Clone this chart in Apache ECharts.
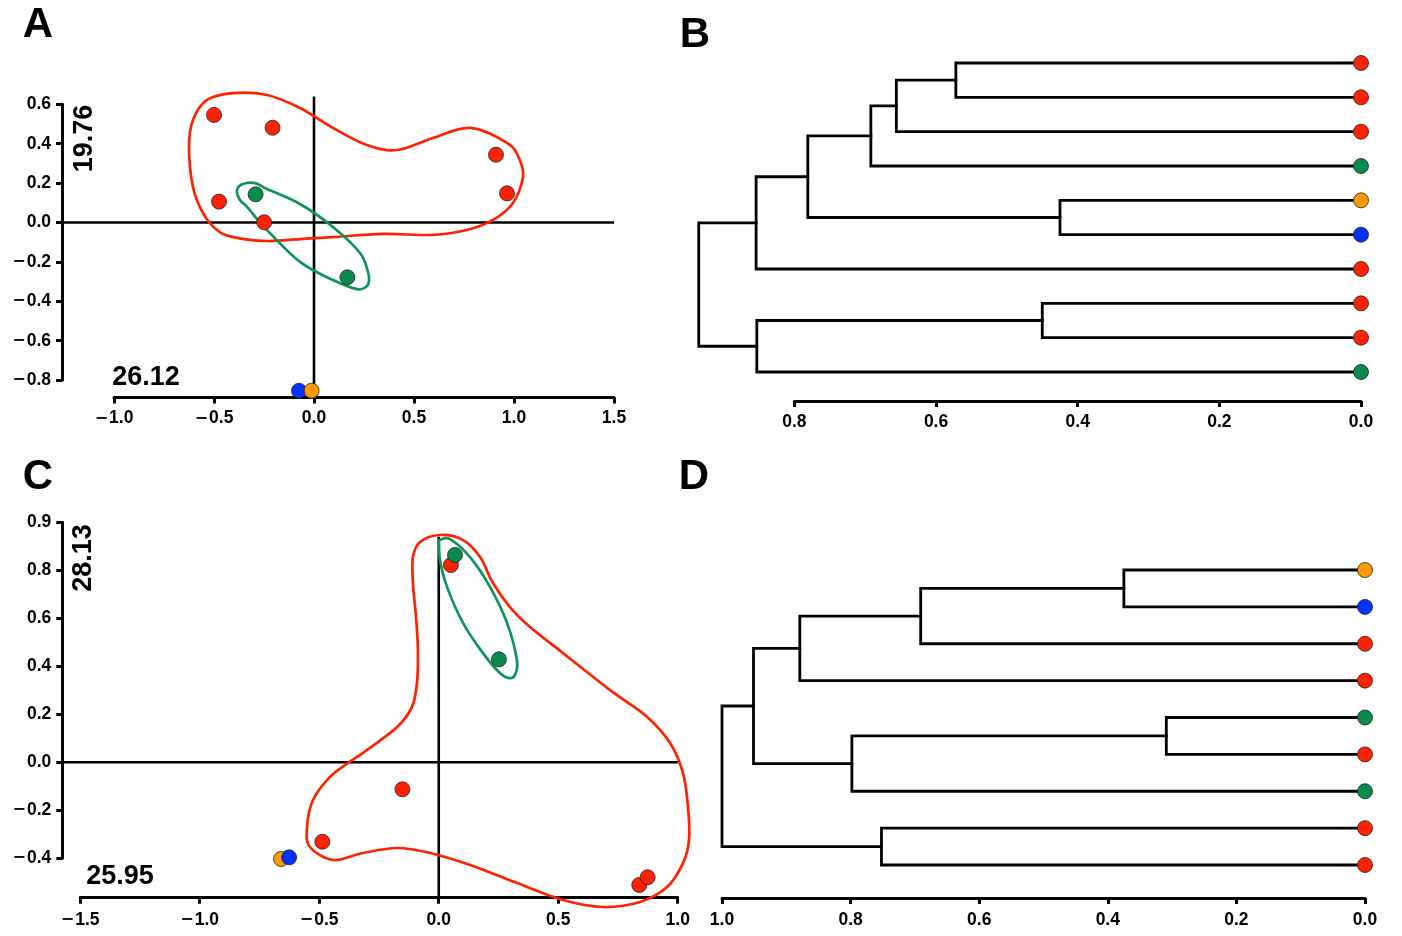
<!DOCTYPE html>
<html><head><meta charset="utf-8">
<script src="https://cdn.jsdelivr.net/npm/echarts@6/dist/echarts.min.js"></script>
<style>html,body{margin:0;padding:0;background:#fff}#c{width:1402px;height:936px}</style>
</head><body><div id="c"></div>
<script>
const FONT = '"Liberation Sans", Arial, Helvetica, sans-serif';
const COLORS = {red:'#FF2200', green:'#078C4E', blue:'#0033FF', orange:'#FF9900'};
const HULL_COLORS = {red:'#FF2200', green:'#0E9459'};

// ---------- Panel A (PCA scores) ----------
const pcaA_x     = [-0.50, -0.207, -0.475, -0.292, -0.249, 0.167, 0.91, 0.965, -0.075, -0.012];
const pcaA_y     = [0.546, 0.481, 0.106, 0.143, 0.001, -0.278, 0.344, 0.148, -0.854, -0.854];
const pcaA_group = ['red','red','red','green','red','green','red','red','blue','orange'];
const hullA_red = [[0.345,-0.058],[0.095,-0.074],[-0.07,-0.084],[-0.235,-0.094],
  [-0.405,-0.074],[-0.485,-0.038],[-0.555,0.048],[-0.605,0.18],[-0.625,0.383],[-0.605,0.52],[-0.535,0.622],
  [-0.405,0.657],[-0.235,0.647],[-0.07,0.581],[0.095,0.48],[0.265,0.393],[0.415,0.368],
  [0.595,0.429],[0.78,0.48],[0.965,0.404],[1.025,0.327],[1.045,0.231],[0.995,0.099],[0.895,0.013],
  [0.765,-0.038],[0.595,-0.063]];
const hullA_green = [[-0.07,0.094],[0.095,-0.023],
  [0.23,-0.155],[0.27,-0.251],[0.275,-0.297],[0.26,-0.327],[0.215,-0.338],[0.095,-0.292],[-0.07,-0.2],
  [-0.235,-0.038],[-0.335,0.079],[-0.37,0.114],[-0.385,0.165],[-0.355,0.195],[-0.295,0.2],[-0.235,0.17]];
const crossA_h = [[-1.26,0],[1.5,0]];
const crossA_v = [[0,-0.89],[0,0.64]];
const xTickValsA = [-1.0,-0.5,0,0.5,1.0,1.5];
const xTicksA    = ['−1.0','−0.5','0.0','0.5','1.0','1.5'];
const yTickValsA = [-0.8,-0.6,-0.4,-0.2,0,0.2,0.4,0.6];
const yTicksA    = ['−0.8','−0.6','−0.4','−0.2','0.0','0.2','0.4','0.6'];
const pcLabelsA  = ['26.12','19.76'];

// ---------- Panel C (PCA scores) ----------
const pcaC_x     = [-0.152, -0.487, -0.66, -0.626, 0.051, 0.068, 0.252, 0.839, 0.874];
const pcaC_y     = [-0.1125, -0.331, -0.403, -0.396, 0.822, 0.864, 0.429, -0.511, -0.479];
const pcaC_group = ['red','red','orange','blue','red','green','green','red','red'];
const hullC_red = [[0.52,0.455],[0.717,0.301],[0.872,0.189],[0.968,0.08],[1.022,-0.045],[1.043,-0.186],[1.047,-0.324],
  [1.022,-0.42],[0.955,-0.52],[0.842,-0.582],[0.687,-0.603],[0.52,-0.574],[0.328,-0.503],[0.131,-0.428],
  [-0.036,-0.378],[-0.174,-0.357],[-0.317,-0.378],[-0.442,-0.407],[-0.539,-0.353],[-0.551,-0.27],
  [-0.526,-0.157],[-0.455,-0.061],[-0.38,-0.003],[-0.317,0.039],[-0.174,0.147],[-0.112,0.231],
  [-0.091,0.331],[-0.087,0.468],[-0.095,0.606],[-0.108,0.747],[-0.108,0.855],[-0.078,0.918],
  [0.005,0.947],[0.102,0.926],[0.173,0.855],[0.227,0.747],[0.298,0.647],[0.382,0.564]];
const hullC_green = [[0.215,0.73],[0.286,0.58],[0.327,0.426],
  [0.319,0.364],[0.294,0.351],[0.256,0.372],[0.185,0.455],[0.102,0.58],[0.035,0.73],[0.005,0.843],[0.001,0.914],
  [0.005,0.926],[0.047,0.93],[0.131,0.855]];
const crossC_h = [[-1.575,0],[1.0,0]];
const crossC_v = [[0,-0.564],[0,0.94]];
const xTickValsC = [-1.5,-1.0,-0.5,0,0.5,1.0];
const xTicksC    = ['−1.5','−1.0','−0.5','0.0','0.5','1.0'];
const yTickValsC = [-0.4,-0.2,0,0.2,0.4,0.6,0.8,1.0];
const yTicksC    = ['−0.4','−0.2','0.0','0.2','0.4','0.6','0.8','0.9'];
const pcLabelsC  = ['25.95','28.13'];

// ---------- Panel B (dendrogram) ----------
const leavesB = ['red','red','red','green','orange','blue','red','red','red','green'];
// [childA, childB, height]; leaves 0..9, merged nodes numbered from 10
const mergesB = [[0,1,0.572],[10,2,0.656],[11,3,0.692],[4,5,0.425],[12,13,0.781],[14,6,0.854],
  [7,8,0.450],[16,9,0.853],[15,17,0.935]];
const xTickValsB = [0,0.2,0.4,0.6,0.8];
const xTicksB    = ['0.0','0.2','0.4','0.6','0.8'];

// ---------- Panel D (dendrogram) ----------
const leavesD = ['orange','blue','red','red','green','red','green','red','red'];
const mergesD = [[0,1,0.375],[9,2,0.691],[10,3,0.879],[4,5,0.309],[12,6,0.798],[11,13,0.951],
  [7,8,0.752],[14,15,1.0]];
const xTickValsD = [0,0.2,0.4,0.6,0.8,1.0];
const xTicksD    = ['0.0','0.2','0.4','0.6','0.8','1.0'];

const panelLetters = ['A','B','C','D'];

// ---------- helpers ----------
function lbl(vals, labels){
  return v => {
    const i = vals.findIndex(t => Math.abs(t - v) < 1e-6);
    if (i < 0) return '';
    const s = labels[i];
    return s.charAt(0) === '−' ? '{m|−}' + s.slice(1) : s;
  };
}
const LINE = {color:'#000', width:3};
function labelStyle(o){
  return Object.assign({show:true, color:'#000', fontSize:17.5, fontWeight:'bold', fontFamily:FONT, margin:12,
    showMinLabel:true, showMaxLabel:true,
    rich:{m:{fontFamily:'"DejaVu Sans", sans-serif', fontWeight:'bold', fontSize:16, color:'#000', padding:[0,1,0,0]}}}, o);
}
function shownAxis(o){
  return Object.assign({
    type:'value', show:true, splitLine:{show:false},
    axisLine:{show:true, onZero:false, lineStyle:LINE},
    axisTick:{show:true, length:6, lineStyle:LINE}
  }, o);
}
function hiddenAxis(o){ return Object.assign({type:'value', show:false, splitLine:{show:false}}, o); }

function buildDendro(merges, nLeaves){
  const pos = [];
  for (let i = 0; i < nLeaves; i++) pos[i] = [0, i];
  const segs = [];
  merges.forEach((m, k) => {
    const a = pos[m[0]], b = pos[m[1]], h = m[2];
    segs.push([[a[0], a[1]], [h, a[1]], [h, b[1]], [b[0], b[1]]]);
    pos[nLeaves + k] = [h, (a[1] + b[1]) / 2];
  });
  return segs;
}

const grid = [
  {left:62, top:92.48, width:552, height:305.35},      // 0 A data
  {left:114, top:387.5, width:500, height:10},         // 1 A x axis
  {left:62, top:104.3, width:10, height:275.8},        // 2 A y axis
  {left:62.3, top:531.9, width:627.4, height:365.76},  // 3 C data
  {left:80.2, top:887.7, width:597.5, height:10},      // 4 C x axis
  {left:62.3, top:522.3, width:10, height:336},        // 5 C y axis
  {left:652.7, top:63, width:708.3, height:309},       // 6 B data
  {left:794.4, top:391, width:566.6, height:10},       // 7 B x axis
  {left:722, top:570, width:643, height:295},          // 8 D data
  {left:722, top:888, width:643, height:10}            // 9 D x axis
];

const xAxis = [
  hiddenAxis({gridIndex:0, min:-1.26, max:1.5}),
  shownAxis({gridIndex:1, min:-1.0, max:1.5, interval:0.5, axisLabel:labelStyle({formatter:lbl(xTickValsA,xTicksA)})}),
  hiddenAxis({gridIndex:2, min:0, max:1}),
  hiddenAxis({gridIndex:3, min:-1.575, max:1.05}),
  shownAxis({gridIndex:4, min:-1.5, max:1.0, interval:0.5, axisLabel:labelStyle({margin:13, formatter:lbl(xTickValsC,xTicksC)})}),
  hiddenAxis({gridIndex:5, min:0, max:1}),
  hiddenAxis({gridIndex:6, min:0, max:1, inverse:true}),
  shownAxis({gridIndex:7, min:0, max:0.8, interval:0.2, inverse:true, axisLabel:labelStyle({formatter:lbl(xTickValsB,xTicksB)})}),
  hiddenAxis({gridIndex:8, min:0, max:1, inverse:true}),
  shownAxis({gridIndex:9, min:0, max:1.0, interval:0.2, inverse:true, axisLabel:labelStyle({margin:13, formatter:lbl(xTickValsD,xTicksD)})})
];
const yAxis = [
  hiddenAxis({gridIndex:0, min:-0.89, max:0.66}),
  hiddenAxis({gridIndex:1, min:0, max:1}),
  shownAxis({gridIndex:2, min:-0.8, max:0.6, interval:0.2, axisLabel:labelStyle({margin:11, formatter:lbl(yTickValsA,yTicksA)})}),
  hiddenAxis({gridIndex:3, min:-0.564, max:0.96}),
  hiddenAxis({gridIndex:4, min:0, max:1}),
  shownAxis({gridIndex:5, min:-0.4, max:1.0, interval:0.2, axisLabel:labelStyle({margin:11, formatter:lbl(yTickValsC,yTicksC)})}),
  hiddenAxis({gridIndex:6, min:0, max:leavesB.length-1, inverse:true}),
  hiddenAxis({gridIndex:7, min:0, max:1}),
  hiddenAxis({gridIndex:8, min:0, max:leavesD.length-1, inverse:true}),
  hiddenAxis({gridIndex:9, min:0, max:1})
];

const series = [];
function refLine(data, gi){
  series.push({type:'line', xAxisIndex:gi, yAxisIndex:gi, data, symbol:'none', clip:false, silent:true,
    lineStyle:{color:'#000', width:2.6}, z:2});
}
// closed smooth outline through the outline points, placed via the axes (api.coord)
function hull(pts, color, gi){
  series.push({type:'custom', coordinateSystem:'cartesian2d', xAxisIndex:gi, yAxisIndex:gi, clip:false, silent:true, z:3,
    data:[pts[0]],
    renderItem:(params, api) => {
      const P = pts.map(p => api.coord(p));
      const n = P.length;
      let d = 'M' + P[0][0] + ',' + P[0][1];
      for (let i = 0; i < n; i++){
        const p0 = P[(i-1+n)%n], p1 = P[i], p2 = P[(i+1)%n], p3 = P[(i+2)%n];
        const c1 = [p1[0]+(p2[0]-p0[0])/6, p1[1]+(p2[1]-p0[1])/6];
        const c2 = [p2[0]-(p3[0]-p1[0])/6, p2[1]-(p3[1]-p1[1])/6];
        d += ' C' + c1[0] + ',' + c1[1] + ' ' + c2[0] + ',' + c2[1] + ' ' + p2[0] + ',' + p2[1];
      }
      d += ' Z';
      return {type:'path', shape:{pathData:d}, style:{stroke:color, fill:'none', lineWidth:2.7}};
    }
  });
}
function points(xs, ys, groups, gi){
  series.push({type:'scatter', xAxisIndex:gi, yAxisIndex:gi, clip:false, symbolSize:15, z:5,
    data: xs.map((x, i) => ({value:[x, ys[i]], itemStyle:{color:COLORS[groups[i]], opacity:1, borderColor:'#222', borderWidth:0.8}}))});
}
function dendro(merges, leaves, gi){
  buildDendro(merges, leaves.length).forEach(seg => {
    series.push({type:'line', xAxisIndex:gi, yAxisIndex:gi, data:seg, symbol:'none', clip:false, silent:true,
      lineStyle:{color:'#000', width:2.8, join:'miter', cap:'square'}, z:2});
  });
  series.push({type:'scatter', xAxisIndex:gi, yAxisIndex:gi, clip:false, symbolSize:15, z:5,
    data: leaves.map((c, i) => ({value:[0, i], itemStyle:{color:COLORS[c], opacity:1, borderColor:'#222', borderWidth:0.8}}))});
}

refLine(crossA_h, 0); refLine(crossA_v, 0);
hull(hullA_red, HULL_COLORS.red, 0); hull(hullA_green, HULL_COLORS.green, 0);
points(pcaA_x, pcaA_y, pcaA_group, 0);

refLine(crossC_h, 3); refLine(crossC_v, 3);
hull(hullC_red, HULL_COLORS.red, 3); hull(hullC_green, HULL_COLORS.green, 3);
points(pcaC_x, pcaC_y, pcaC_group, 3);

dendro(mergesB, leavesB, 6);
dendro(mergesD, leavesD, 8);

function txt(text, x, y, size, rot){
  return {type:'text', x, y, rotation:rot||0, z:10,
    style:{text, fontSize:size, fontWeight:'bold', fontFamily:FONT, fill:'#000', align:'center', verticalAlign:'middle'}};
}
const graphic = [
  txt(panelLetters[0], 38, 25, 42), txt(panelLetters[1], 695, 35, 42),
  txt(panelLetters[2], 38, 477, 42), txt(panelLetters[3], 694, 477, 42),
  txt(pcLabelsA[0], 146, 378, 27), txt(pcLabelsA[1], 85, 138.5, 27, Math.PI/2),
  txt(pcLabelsC[0], 120, 876.5, 27), txt(pcLabelsC[1], 84, 558, 27, Math.PI/2)
];

const chart = echarts.init(document.getElementById('c'), null, {renderer:'canvas'});
chart.setOption({animation:false, backgroundColor:'#fff', grid, xAxis, yAxis, series, graphic});
</script></body></html>
